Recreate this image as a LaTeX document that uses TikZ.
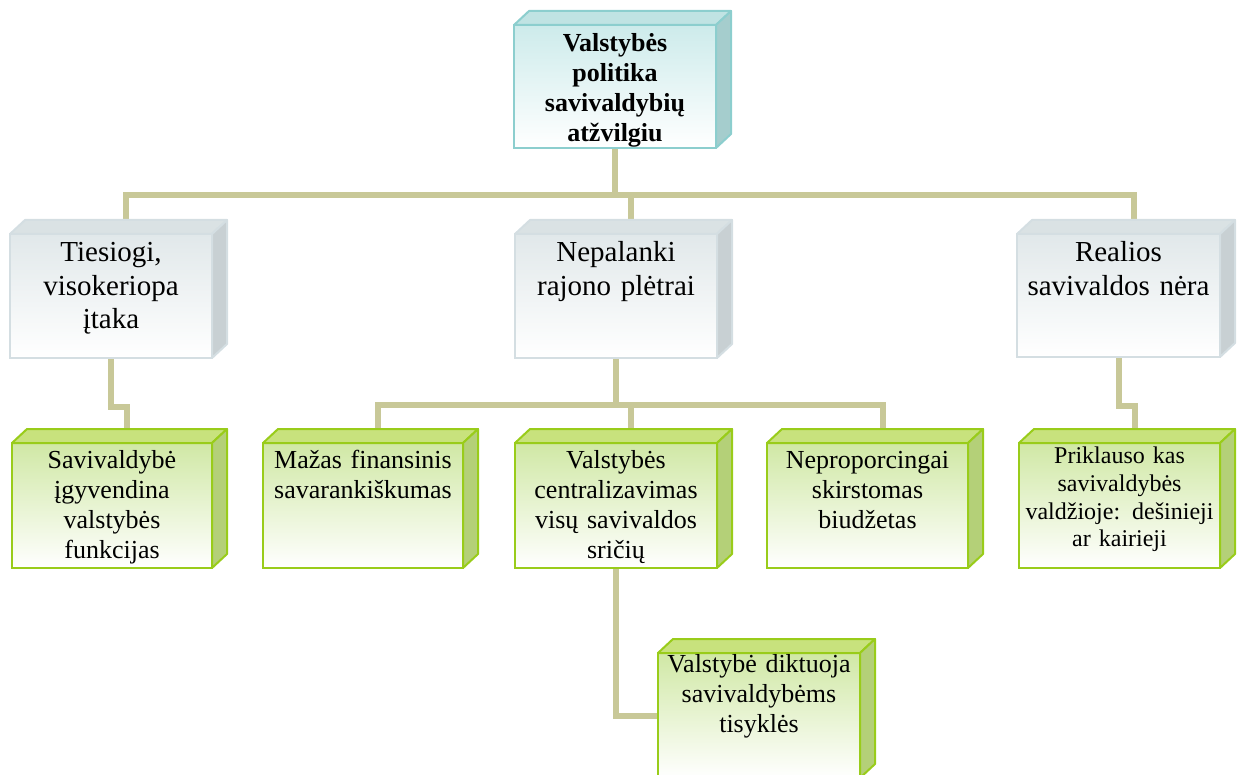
\documentclass[tikz,border=0pt]{standalone}
\usepackage{fontspec}
\setmainfont{Liberation Serif}
\usetikzlibrary{calc}

\definecolor{linkc}{RGB}{200,200,152}
\definecolor{tealB}{RGB}{140,206,206}
\definecolor{tealF}{RGB}{205,235,235}
\definecolor{tealT}{RGB}{192,227,227}
\definecolor{tealS}{RGB}{165,205,205}
\definecolor{grayB}{RGB}{212,222,226}
\definecolor{grayF}{RGB}{225,232,234}
\definecolor{grayT}{RGB}{218,226,228}
\definecolor{grayS}{RGB}{200,208,211}
\definecolor{grnB}{RGB}{153,204,26}
\definecolor{grnF}{RGB}{208,232,165}
\definecolor{grnT}{RGB}{200,226,125}
\definecolor{grnS}{RGB}{180,208,120}

\pgfdeclarelayer{bg}
\pgfsetlayers{bg,main}

\tikzset{
  link/.style={draw=linkc, line width=6pt},
  face/.style={rectangle, line width=2pt, inner sep=0pt, outer sep=0pt, anchor=north west},
  tealfront/.style={face, draw=tealB, top color=tealF, bottom color=white},
  tealtop/.style={fill=tealT, draw=tealB, line width=2pt, line join=round},
  tealside/.style={fill=tealS, draw=tealB, line width=2pt, line join=round},
  grayfront/.style={face, draw=grayB, top color=grayF, bottom color=white},
  graytop/.style={fill=grayT, draw=grayB, line width=2pt, line join=round},
  grayside/.style={fill=grayS, draw=grayB, line width=2pt, line join=round},
  grnfront/.style={face, draw=grnB, top color=grnF, bottom color=white},
  grntop/.style={fill=grnT, draw=grnB, line width=2pt, line join=round},
  grnside/.style={fill=grnS, draw=grnB, line width=2pt, line join=round},
  label/.style={anchor=base, inner sep=0pt, text width=196pt, align=center},
  rootfont/.style={label, font=\fontsize{26}{30}\selectfont\bfseries},
  midfont/.style={label, font=\fontsize{29}{33.4}\selectfont},
  lowfont/.style={label, font=\fontsize{26}{30}\selectfont},
  smallfont/.style={label, font=\fontsize{24}{27.6}\selectfont},
}

% #1 name, #2 colour scheme, #3 left, #4 top, #5 width, #6 height
\newcommand\cubebox[6]{%
  \node[#2front, minimum width=#5pt, minimum height=#6pt] (#1) at (#3,#4) {};
  \filldraw[#2top] (#1.north west) -- ++(15,-14) -- ++(#5,0) -- (#1.north east) -- cycle;
  \filldraw[#2side] (#1.north east) -- ++(15,-14) -- ++(0,#6) -- (#1.south east) -- cycle;
}

\begin{document}
\begin{tikzpicture}[x=1pt, y=-1pt]
\useasboundingbox (0,0) rectangle (1237,775);

% boxes
\cubebox{root}{teal}{514}{25}{202}{123}
\cubebox{l2a}{gray}{10}{234}{202}{124}
\cubebox{l2b}{gray}{515}{234}{202}{124}
\cubebox{l2c}{gray}{1017}{234}{203}{123}
\cubebox{l3a}{grn}{12}{443}{200}{125}
\cubebox{l3b}{grn}{263}{443}{200}{125}
\cubebox{l3c}{grn}{515}{443}{202}{125}
\cubebox{l3d}{grn}{767}{443}{201}{125}
\cubebox{l3e}{grn}{1019}{443}{201}{125}
\cubebox{l4}{grn}{658}{653}{202}{125}

% labels
\node[rootfont] at ($(root.north)+(0,27)$) {Valstybės\\politika\\savivaldybių\\atžvilgiu};
\node[midfont] at ($(l2a.north)+(0,28)$) {Tiesiogi,\\visokeriopa\\įtaka};
\node[midfont] at ($(l2b.north)+(0,28)$) {Nepalanki\\rajono plėtrai};
\node[midfont] at ($(l2c.north)+(0,28)$) {Realios\\savivaldos nėra};
\node[lowfont] at ($(l3a.north)+(0,25)$) {Savivaldybė\\įgyvendina\\valstybės\\funkcijas};
\node[lowfont] at ($(l3b.north)+(0,25)$) {Mažas finansinis\\savarankiškumas};
\node[lowfont] at ($(l3c.north)+(0,25)$) {Valstybės\\centralizavimas\\visų savivaldos\\sričių};
\node[lowfont] at ($(l3d.north)+(0,25)$) {Neproporcingai\\skirstomas\\biudžetas};
\node[smallfont] at ($(l3e.north)+(0,21)$) {Priklauso kas\\savivaldybės\\valdžioje: dešinieji\\ar kairieji};
\node[lowfont] at ($(l4.north)+(0,19)$) {Valstybė diktuoja\\savivaldybėms\\tisyklės};

% connectors, drawn behind the boxes
\begin{pgfonlayer}{bg}
  \coordinate (busA) at ($(root.south)+(0,47)$);
  \draw[link] (root.south) -- (busA);
  \draw[link] (busA) -| ($(l2a.north)+(15,0)$);
  \draw[link] (busA) -| ($(l2b.north)+(15,0)$);
  \draw[link] (busA) -| ($(l2c.north)+(15,0)$);

  \draw[link] (l2a.south) -- ++(0,49) -| ($(l3a.north)+(15,0)$);
  \draw[link] (l2c.south) -- ++(0,49) -| ($(l3e.north)+(15,0)$);

  \coordinate (busB) at ($(l2b.south)+(0,47)$);
  \draw[link] (l2b.south) -- (busB);
  \draw[link] (busB) -| ($(l3b.north)+(15,0)$);
  \draw[link] (busB) -| ($(l3c.north)+(15,0)$);
  \draw[link] (busB) -| ($(l3d.north)+(15,0)$);

  \draw[link] (l3c.south) |- (l4.west);
\end{pgfonlayer}
\end{tikzpicture}
\end{document}
